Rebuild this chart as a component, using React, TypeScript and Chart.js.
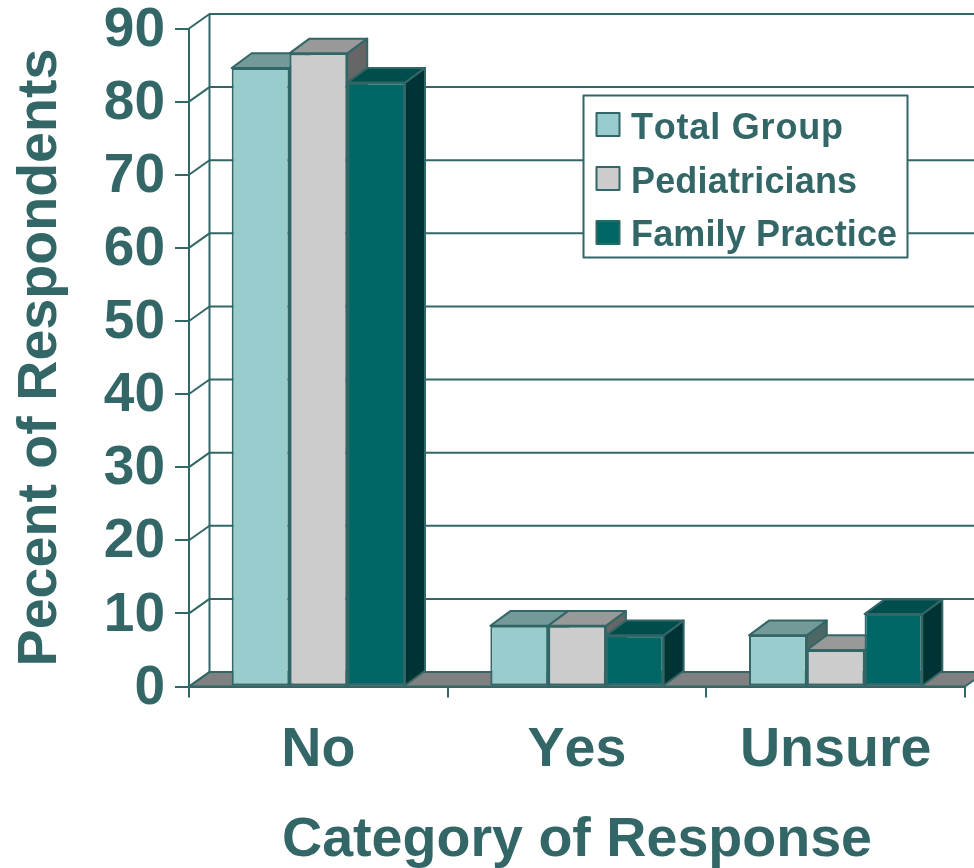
import React, { useEffect, useRef } from "react";
import { Chart, registerables } from "chart.js";

Chart.register(...registerables);

const categories = ["No", "Yes", "Unsure"];
const seriesNames = ["Total Group", "Pediatricians", "Family Practice"];
const totalGroup = [84.6, 8.3, 7.0];
const pediatricians = [86.6, 8.3, 5.0];
const familyPractice = [82.6, 7.0, 9.9];

const INK = "#336666";
const FONT = "'Liberation Sans', Arial, sans-serif";
const faceColors = ["#99CCCC", "#CCCCCC", "#006666"];
const topColors = ["#739999", "#999999", "#004D4D"];
const sideColors = ["#4D6666", "#666666", "#003333"];
const legendSpacing = ["0.8px", "0.17px", "0.14px"];

const W = 974;
const H = 868;
const AREA = { left: 189, right: 965, top: 28.5, bottom: 686.5 };
const DX = 20.5;
const DY = -14.5;
const BAR_DX = 20;
const BAR_DY = -14.7;

function poly(ctx: CanvasRenderingContext2D, pts: number[][], fill: string | null, stroke: string, lw: number) {
  ctx.beginPath();
  pts.forEach((p, i) => (i ? ctx.lineTo(p[0], p[1]) : ctx.moveTo(p[0], p[1])));
  ctx.closePath();
  if (fill) {
    ctx.fillStyle = fill;
    ctx.fill();
  }
  ctx.lineWidth = lw;
  ctx.strokeStyle = stroke;
  ctx.lineJoin = "round";
  ctx.stroke();
}

const walls3d = {
  id: "walls3d",
  beforeDraw(chart: any) {
    const { ctx, scales } = chart;
    (ctx as any).fontKerning = "none";
    const y = scales.y;
    const left = chart.chartArea.left;
    const right = chart.chartArea.right;
    const zero = y.getPixelForValue(0);
    ctx.save();
    // floor
    poly(
      ctx,
      [
        [left, zero],
        [left + DX, zero + DY],
        [right + DX, zero + DY],
        [right, zero],
      ],
      "#808080",
      INK,
      2
    );
    // back wall gridlines and left wall diagonals
    ctx.strokeStyle = INK;
    y.ticks.forEach((t: any) => {
      const py = y.getPixelForValue(t.value);
      ctx.lineWidth = 2;
      ctx.beginPath();
      ctx.moveTo(left, py);
      ctx.lineTo(left + DX, py + DY);
      ctx.lineTo(right + DX, py + DY);
      ctx.stroke();
    });
    ctx.lineWidth = 2;
    ctx.beginPath();
    ctx.moveTo(left + DX, y.getPixelForValue(y.max) + DY);
    ctx.lineTo(left + DX, zero + DY);
    ctx.stroke();

    // legend box
    const box = { x: 583.5, y: 95.5, w: 324, h: 162 };
    ctx.fillStyle = "#ffffff";
    ctx.fillRect(box.x, box.y, box.w, box.h);
    ctx.lineWidth = 2;
    ctx.strokeRect(box.x, box.y, box.w, box.h);
    ctx.font = `bold 36px ${FONT}`;
    ctx.textBaseline = "alphabetic";
    ctx.textAlign = "left";
    seriesNames.forEach((name, i) => {
      const rowY = 125 + i * 54;
      ctx.fillStyle = faceColors[i];
      ctx.fillRect(596.5, rowY - 12, 23, 23);
      ctx.strokeRect(596.5, rowY - 12, 23, 23);
      ctx.fillStyle = INK;
      (ctx as any).letterSpacing = legendSpacing[i];
      ctx.fillText(name, 631, 139 + i * 53.5);
    });
    (ctx as any).letterSpacing = "0px";
    ctx.restore();
  },
  beforeDatasetsDraw(chart: any) {
    const { ctx } = chart;
    ctx.save();
    categories.forEach((_, j) => {
      seriesNames.forEach((__, i) => {
        const el = chart.getDatasetMeta(i).data[j];
        const l = el.x - el.width / 2;
        const r = el.x + el.width / 2;
        const t = el.y;
        const b = el.base;
        poly(
          ctx,
          [
            [r, t],
            [r + BAR_DX, t + BAR_DY],
            [r + BAR_DX, b + BAR_DY],
            [r, b],
          ],
          sideColors[i],
          INK,
          2
        );
        poly(
          ctx,
          [
            [l, t],
            [l + BAR_DX, t + BAR_DY],
            [r + BAR_DX, t + BAR_DY],
            [r, t],
          ],
          topColors[i],
          INK,
          2
        );
      });
    });
    ctx.restore();
  },
};

export default function App() {
  const ref = useRef<HTMLCanvasElement>(null);
  useEffect(() => {
    const series = [totalGroup, pediatricians, familyPractice];
    const tickFont = { family: FONT, size: 55, weight: "bold" as const, lineHeight: 1 };
    const titleFont = { family: FONT, size: 55.6, weight: "bold" as const, lineHeight: 1 };
    const chart = new Chart(ref.current as HTMLCanvasElement, {
      type: "bar",
      data: {
        labels: categories,
        datasets: series.map((data, i) => ({
          label: seriesNames[i],
          data,
          backgroundColor: faceColors[i],
          borderColor: INK,
          borderWidth: 2,
          borderSkipped: false,
          categoryPercentage: 0.67,
          barPercentage: 1,
        })),
      },
      options: {
        responsive: false,
        animation: false,
        devicePixelRatio: 1,
        layout: { padding: { top: AREA.top, right: W - AREA.right, left: 0, bottom: 0 } },
        plugins: { legend: { display: false }, tooltip: { enabled: false } },
        scales: {
          x: {
            afterFit: (s: any) => {
              s.height = H - AREA.bottom;
              s.paddingLeft = 0;
              s.paddingRight = 0;
            },
            grid: { offset: true, drawOnChartArea: false, color: INK, lineWidth: 2, tickLength: 11 },
            border: { color: INK, width: 2 },
            ticks: { color: INK, font: titleFont, padding: 25, maxRotation: 0, autoSkip: false },
            title: {
              display: true,
              text: "Category of Response",
              color: INK,
              font: titleFont,
              padding: { top: 0, bottom: 0 },
            },
          },
          y: {
            min: 0,
            max: 90,
            afterFit: (s: any) => {
              s.width = AREA.left;
              s.paddingTop = 0;
              s.paddingBottom = 0;
            },
            grid: { drawOnChartArea: false, color: INK, lineWidth: 2, tickLength: 14 },
            border: { color: INK, width: 2 },
            ticks: { color: INK, font: tickFont, padding: 10, stepSize: 10, labelOffset: 2 },
            title: {
              display: true,
              text: "Pecent of Respondents",
              color: INK,
              font: titleFont,
              padding: { top: 13, bottom: 13 },
            },
          },
        },
      },
      plugins: [walls3d],
    } as any);
    return () => chart.destroy();
  }, []);
  return (
    <canvas
      ref={ref}
      width={W}
      height={H}
      style={{ position: "absolute", left: 0, top: 0, display: "block", width: W, height: H }}
    />
  );
}
